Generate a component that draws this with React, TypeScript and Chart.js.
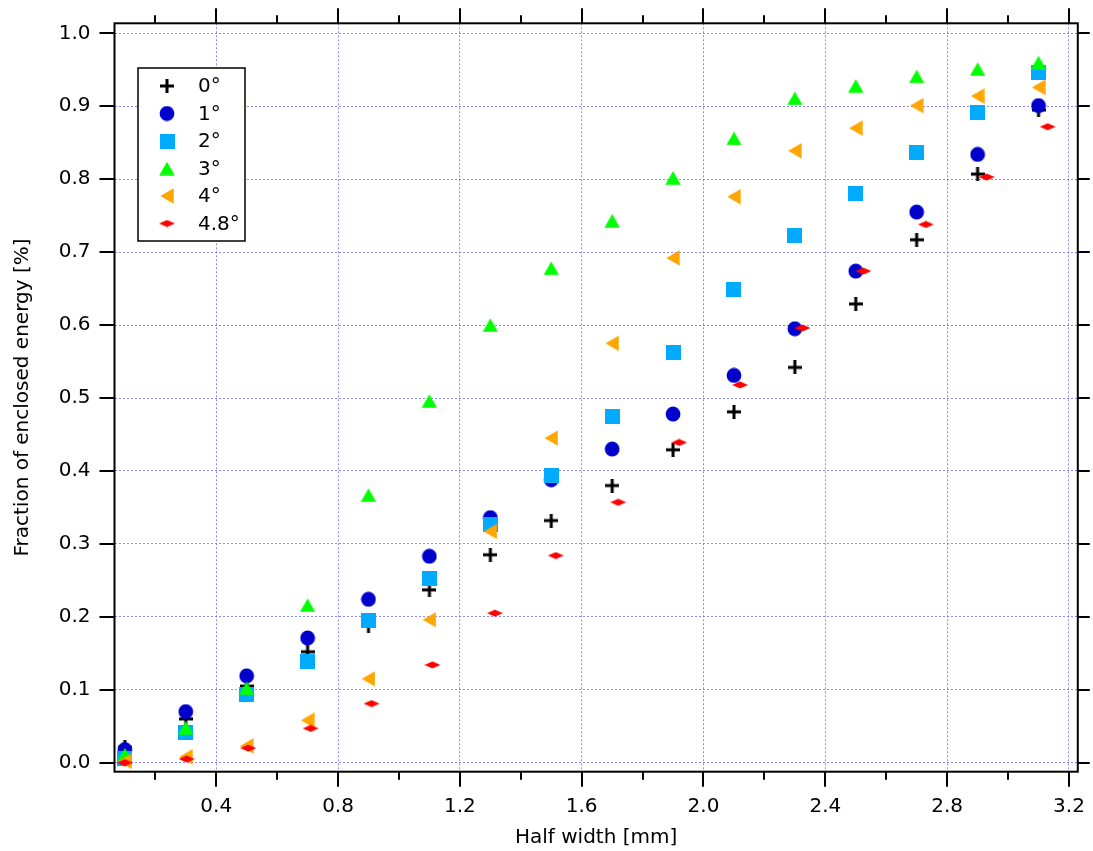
import React, { useEffect, useRef } from 'react';
import { Chart, registerables } from 'chart.js';

Chart.register(...registerables);

// ---------- data ----------
const X_VALUES = [0.1, 0.3, 0.5, 0.7, 0.9, 1.1, 1.3, 1.5, 1.7, 1.9, 2.1, 2.3, 2.5, 2.7, 2.9, 3.1];
const X_VALUES_48 = [0.1, 0.303, 0.505, 0.71, 0.91, 1.11, 1.315, 1.515, 1.72, 1.92, 2.12, 2.325, 2.525, 2.73, 2.93, 3.13];

const Y_0 = [0.021, 0.060, 0.105, 0.152, 0.188, 0.237, 0.285, 0.332, 0.380, 0.429, 0.481, 0.542, 0.629, 0.717, 0.807, 0.895];
const Y_1 = [0.018, 0.070, 0.119, 0.171, 0.224, 0.283, 0.336, 0.388, 0.430, 0.478, 0.531, 0.595, 0.674, 0.755, 0.834, 0.901];
const Y_2 = [0.006, 0.042, 0.093, 0.139, 0.195, 0.253, 0.326, 0.394, 0.474, 0.562, 0.649, 0.723, 0.781, 0.837, 0.891, 0.946];
const Y_3 = [0.011, 0.048, 0.102, 0.216, 0.367, 0.496, 0.600, 0.678, 0.743, 0.802, 0.856, 0.911, 0.928, 0.941, 0.951, 0.960];
const Y_4 = [0.002, 0.008, 0.023, 0.058, 0.115, 0.196, 0.317, 0.445, 0.575, 0.692, 0.776, 0.839, 0.870, 0.901, 0.914, 0.926];
const Y_48 = [0.000, 0.005, 0.020, 0.047, 0.081, 0.134, 0.205, 0.284, 0.357, 0.439, 0.518, 0.596, 0.674, 0.738, 0.803, 0.872];

const SERIES_LABELS = ['0°', '1°', '2°', '3°', '4°', '4.8°'];
const SERIES_COLORS = ['#000000', '#0000CC', '#00AAFF', '#00FF00', '#FFA500', '#FF0000'];

const X_MIN = 0.066;
const X_MAX = 3.229;
const Y_MIN = -0.0124;
const Y_MAX = 1.0138;
const X_STEP = 0.2;
const Y_STEP = 0.1;

const X_TITLE = 'Half width [mm]';
const Y_TITLE = 'Fraction of enclosed energy [%]';

const FONT = 'DejaVu Sans';
const GRID_COLOR = 'rgba(100,100,255,0.75)';

// ---------- point styles ----------
function mk(w: number, h: number, draw: (c: CanvasRenderingContext2D) => void) {
  const cv = document.createElement('canvas');
  cv.width = w;
  cv.height = h;
  const c = cv.getContext('2d')!;
  draw(c);
  return cv;
}

function makeStyles(): HTMLCanvasElement[] {
  const plus = mk(14, 14, (c) => {
    c.fillStyle = SERIES_COLORS[0];
    c.fillRect(0, 5.5, 14, 3);
    c.fillRect(5.5, 0, 3, 14);
  });
  const circle = mk(16, 16, (c) => {
    c.fillStyle = SERIES_COLORS[1];
    c.beginPath();
    c.arc(8, 8, 7.4, 0, Math.PI * 2);
    c.fill();
  });
  const square = mk(15, 15, (c) => {
    c.fillStyle = SERIES_COLORS[2];
    c.fillRect(0, 0, 15, 15);
  });
  const tri = mk(16, 14, (c) => {
    c.fillStyle = SERIES_COLORS[3];
    c.beginPath();
    c.moveTo(8, 0.3);
    c.lineTo(15.7, 13.7);
    c.lineTo(0.3, 13.7);
    c.closePath();
    c.fill();
  });
  const left = mk(14, 16, (c) => {
    c.fillStyle = SERIES_COLORS[4];
    c.beginPath();
    c.moveTo(0.3, 8);
    c.lineTo(13.7, 0.3);
    c.lineTo(13.7, 15.7);
    c.closePath();
    c.fill();
  });
  const diamond = mk(16, 8, (c) => {
    c.fillStyle = SERIES_COLORS[5];
    c.beginPath();
    c.moveTo(0, 4);
    c.lineTo(8, 0.5);
    c.lineTo(16, 4);
    c.lineTo(8, 7.5);
    c.closePath();
    c.fill();
  });
  return [plus, circle, square, tri, left, diamond];
}

const isMajorX = (v: number) => Math.round(v * 10) % 4 === 0;

export default function App() {
  const ref = useRef<HTMLCanvasElement>(null);

  useEffect(() => {
    const canvas = ref.current!;
    const styles = makeStyles();
    const xs = [X_VALUES, X_VALUES, X_VALUES, X_VALUES, X_VALUES, X_VALUES_48];
    const ys = [Y_0, Y_1, Y_2, Y_3, Y_4, Y_48];

    const datasets = ys.map((yv, i) => ({
      label: SERIES_LABELS[i],
      data: yv.map((y, j) => ({ x: xs[i][j], y })),
      pointStyle: styles[i] as any,
      pointRadius: 7,
      showLine: false,
      backgroundColor: SERIES_COLORS[i],
      borderColor: SERIES_COLORS[i],
      order: ys.length - i,
      xAxisID: 'x',
      yAxisID: 'y',
      clip: false as any,
    }));

    const framePlugin = {
      id: 'frameTicksLegend',
      afterDraw(chart: any) {
        const { ctx, chartArea: a, scales } = chart;
        const x = scales.x;
        const y = scales.y;
        ctx.save();
        ctx.strokeStyle = '#000';
        ctx.lineWidth = 2;
        ctx.lineCap = 'butt';
        // ticks
        ctx.beginPath();
        x.ticks.forEach((t: any) => {
          const px = Math.round(x.getPixelForValue(t.value)) + 0.0;
          const len = isMajorX(t.value) ? 15 : 8;
          ctx.moveTo(px, a.bottom);
          ctx.lineTo(px, a.bottom + len);
          ctx.moveTo(px, a.top);
          ctx.lineTo(px, a.top - len);
        });
        y.ticks.forEach((t: any) => {
          const py = Math.round(y.getPixelForValue(t.value));
          ctx.moveTo(a.left - 15, py);
          ctx.lineTo(a.left, py);
          ctx.moveTo(a.right, py);
          ctx.lineTo(a.right + 12, py);
        });
        ctx.stroke();
        // frame
        ctx.strokeRect(a.left, a.top, a.right - a.left, a.bottom - a.top);

        // legend
        const bx = a.left + 23.5;
        const by = a.top + 44.7;
        const bw = 107;
        const bh = 173;
        ctx.fillStyle = '#fff';
        ctx.fillRect(bx, by, bw, bh);
        ctx.lineWidth = 1.5;
        ctx.strokeRect(bx, by, bw, bh);
        ctx.font = `20px "${FONT}"`;
        ctx.textBaseline = 'middle';
        ctx.textAlign = 'left';
        ctx.fillStyle = '#000';
        SERIES_LABELS.forEach((lab, i) => {
          const ry = by + 18 + i * 27.5;
          const s = styles[i];
          ctx.drawImage(s, bx + 29 - s.width / 2, ry - s.height / 2);
          ctx.fillStyle = '#000';
          ctx.fillText(lab, bx + 60, ry + 1);
        });
        ctx.restore();
      },
    };

    const chart = new Chart(canvas, {
      type: 'scatter',
      data: { datasets: datasets as any },
      plugins: [framePlugin],
      options: {
        responsive: false,
        animation: false,
        devicePixelRatio: 1,
        layout: { padding: 0 },
        plugins: {
          legend: { display: false },
          tooltip: { enabled: false },
        },
        scales: {
          x: {
            type: 'linear',
            position: 'bottom',
            min: X_MIN,
            max: X_MAX,
            afterFit: (s: any) => {
              s.height = 79.3;
            },
            ticks: {
              stepSize: X_STEP,
              includeBounds: false,
              autoSkip: false,
              maxRotation: 0,
              minRotation: 0,
              maxTicksLimit: 100,
              padding: 8,
              color: '#000',
              font: { family: FONT, size: 20 },
              callback: (v: any) => (isMajorX(Number(v)) ? Number(v).toFixed(1) : ''),
            },
            grid: {
              color: (ctx: any) => (ctx.tick && isMajorX(ctx.tick.value) ? GRID_COLOR : 'rgba(0,0,0,0)'),
              lineWidth: 1,
              drawTicks: true,
              tickLength: 15,
              tickColor: 'rgba(0,0,0,0)',
            },
            border: { display: false, dash: [2, 2] },
            title: {
              display: true,
              text: X_TITLE,
              color: '#000',
              font: { family: FONT, size: 20, lineHeight: 1.2 },
              padding: { top: 0, bottom: 1 },
            },
          },
          x2: {
            type: 'linear',
            position: 'top',
            min: X_MIN,
            max: X_MAX,
            afterFit: (s: any) => {
              s.height = 23.3;
            },
            ticks: { display: false },
            grid: { display: false, drawTicks: false },
            border: { display: false },
          },
          y: {
            type: 'linear',
            position: 'left',
            min: Y_MIN,
            max: Y_MAX,
            afterFit: (s: any) => {
              s.width = 114.5;
            },
            ticks: {
              stepSize: Y_STEP,
              includeBounds: false,
              autoSkip: false,
              maxTicksLimit: 100,
              padding: 9,
              color: '#000',
              font: { family: FONT, size: 20 },
              callback: (v: any) => Number(v).toFixed(1),
            },
            grid: {
              color: GRID_COLOR,
              lineWidth: 1,
              drawTicks: true,
              tickLength: 15,
              tickColor: 'rgba(0,0,0,0)',
            },
            border: { display: false, dash: [2, 2] },
            title: {
              display: true,
              text: Y_TITLE,
              color: '#000',
              font: { family: FONT, size: 20, lineHeight: 1.2 },
              padding: { top: 11, bottom: 11 },
            },
          },
          y2: {
            type: 'linear',
            position: 'right',
            min: Y_MIN,
            max: Y_MAX,
            afterFit: (s: any) => {
              s.width = 12;
            },
            ticks: { display: false },
            grid: { display: false, drawTicks: false },
            border: { display: false },
          },
        },
      } as any,
    });

    return () => chart.destroy();
  }, []);

  return (
    <div style={{ position: 'absolute', left: 0, top: 0, width: 1093, height: 851, background: '#fff' }}>
      <canvas ref={ref} width={1093} height={851} style={{ display: 'block', width: 1093, height: 851 }} />
    </div>
  );
}
